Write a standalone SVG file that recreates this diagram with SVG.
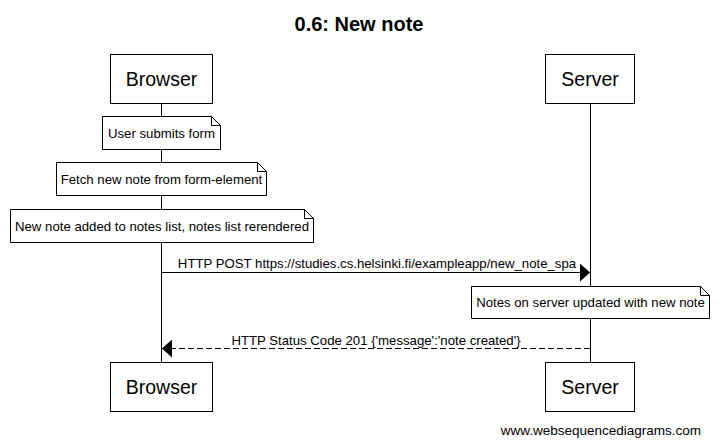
<svg xmlns="http://www.w3.org/2000/svg" width="719" height="445" viewBox="0 0 719 445">
<style>
text{font-family:"Liberation Sans",Arial,sans-serif;fill:#000}
.actor rect{fill:#fff;stroke:#000;stroke-width:1}
.actor text{font-size:19.5px;text-anchor:middle}
.note path{fill:#fff;stroke:#000;stroke-width:1}
.note path.fold{fill:none}
.note text{font-size:13.2px;text-anchor:middle}
.life{stroke:#000;stroke-width:1}
.msg{stroke:#000;stroke-width:1;fill:none}
.lbl{font-size:13.2px;text-anchor:middle}
</style>
<defs>
<marker id="ah" markerWidth="10" markerHeight="18" refX="10" refY="9" orient="auto" markerUnits="userSpaceOnUse">
<path d="M0,0 L10,9 L0,18 Z" fill="#000"/>
</marker>
</defs>
<rect width="719" height="445" fill="#fff"/>
<text x="359" y="30.5" font-size="20px" font-weight="bold" text-anchor="middle">0.6: New note</text>
<g id="lifelines">
<line class="life" x1="161.5" y1="103" x2="161.5" y2="362"/>
<line class="life" x1="590.5" y1="103" x2="590.5" y2="362"/>
</g>
<g id="browser-top" class="actor">
<rect x="110.5" y="54.5" width="102" height="49"/>
<text x="161.5" y="85.5">Browser</text>
</g>
<g id="server-top" class="actor">
<rect x="545.5" y="54.5" width="89" height="49"/>
<text x="590" y="85.5">Server</text>
</g>
<g id="browser-bottom" class="actor">
<rect x="110.5" y="362.5" width="102" height="49"/>
<text x="161.5" y="393.5">Browser</text>
</g>
<g id="server-bottom" class="actor">
<rect x="545.5" y="362.5" width="89" height="49"/>
<text x="590" y="393.5">Server</text>
</g>
<g id="note1" class="note">
<path d="M102.5,116.5 H211.5 L220.5,125.5 V149.5 H102.5 Z"/>
<path class="fold" d="M211.5,116.5 V125.5 H220.5"/>
<text x="161.5" y="137.5">User submits form</text>
</g>
<g id="note2" class="note">
<path d="M56.5,162.5 H257.5 L266.5,171.5 V195.5 H56.5 Z"/>
<path class="fold" d="M257.5,162.5 V171.5 H266.5"/>
<text x="161.5" y="183.5">Fetch new note from form-element</text>
</g>
<g id="note3" class="note">
<path d="M10.5,209.5 H304.5 L313.5,218.5 V242.5 H10.5 Z"/>
<path class="fold" d="M304.5,209.5 V218.5 H313.5"/>
<text x="162" y="230.5">New note added to notes list, notes list rerendered</text>
</g>
<g id="note4" class="note">
<path d="M471.5,286.5 H700.5 L709.5,295.5 V318.5 H471.5 Z"/>
<path class="fold" d="M700.5,286.5 V295.5 H709.5"/>
<text x="590.5" y="307">Notes on server updated with new note</text>
</g>
<g id="connectors">
<line class="msg" x1="162" y1="272.5" x2="590" y2="272.5" marker-end="url(#ah)"/>
<text class="lbl" x="377" y="267.5">HTTP POST https://studies.cs.helsinki.fi/exampleapp/new_note_spa</text>
<line class="msg" x1="590" y1="348.5" x2="162" y2="348.5" stroke-dasharray="6,3" marker-end="url(#ah)"/>
<text class="lbl" x="376" y="344.5">HTTP Status Code 201 {'message':'note created'}</text>
</g>
<text x="701" y="435" font-size="13.5px" text-anchor="end">www.websequencediagrams.com</text>
</svg>
